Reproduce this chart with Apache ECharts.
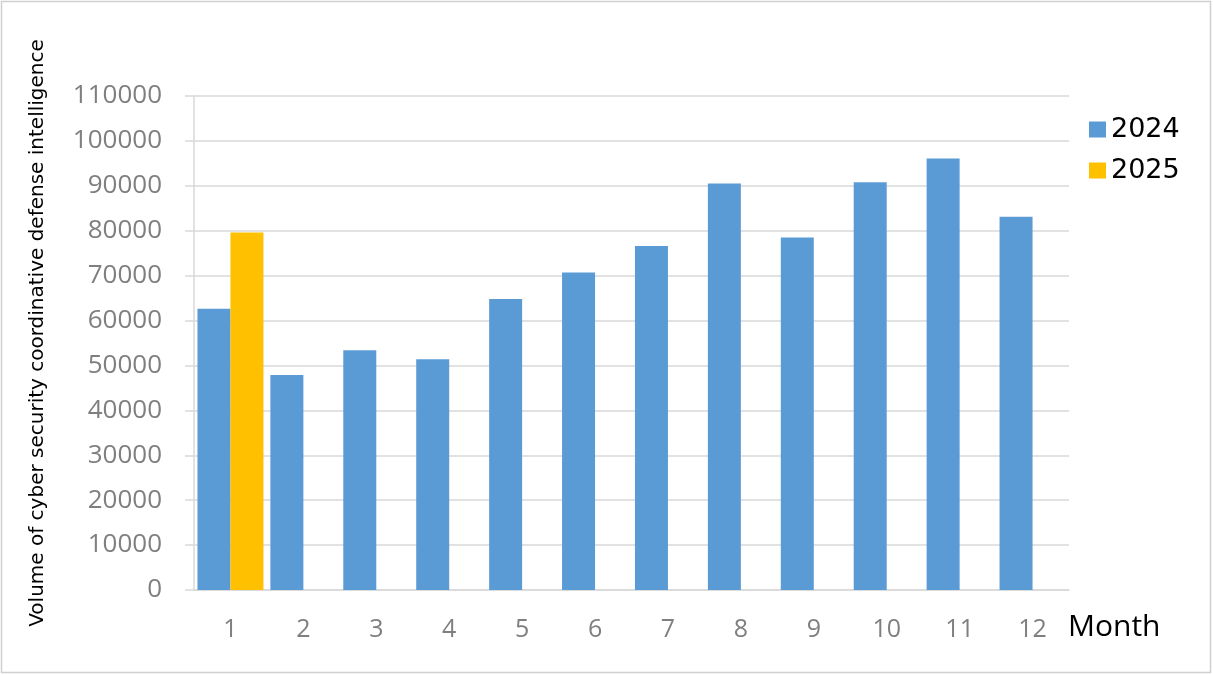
<!DOCTYPE html>
<html>
<head>
<meta charset="utf-8">
<script src="https://cdn.jsdelivr.net/npm/echarts@6/dist/echarts.min.js"></script>
<style>
html,body{margin:0;padding:0;background:#fff;}
#chart{width:1213px;height:675px;}
</style>
</head>
<body>
<div id="chart"></div>
<script>
const months = ['1','2','3','4','5','6','7','8','9','10','11','12'];
const seriesNames = ['2024','2025'];
const values2024 = [62600, 47900, 53400, 51400, 64800, 70700, 76600, 90500, 78500, 90800, 96100, 83100];
const values2025 = [79600, null, null, null, null, null, null, null, null, null, null, null];
const yTitle = 'Volume of cyber security coordinative defense intelligence';
const xTitle = 'Month';

const chart = echarts.init(document.getElementById('chart'), null, {renderer: 'canvas'});
const option = {
  backgroundColor: '#ffffff',
  animation: false,
  grid: {left: 194, right: 144, top: 96, bottom: 85, containLabel: false, outerBoundsMode: 'none'},
  legend: {
    orient: 'vertical',
    left: 1084,
    top: 111,
    itemWidth: 17,
    itemHeight: 16,
    itemGap: 14,
    icon: 'rect',
    data: seriesNames,
    textStyle: {fontFamily: 'DejaVu Sans', fontSize: 27, color: '#000'}
  },
  xAxis: {
    type: 'category',
    data: months,
    axisLine: {show: true, lineStyle: {color: '#d9d9d9', width: 1.5}},
    axisTick: {show: false},
    axisLabel: {fontFamily: 'Open Sans', fontSize: 25, color: '#7f7f7f', margin: 27}
  },
  yAxis: {
    type: 'value',
    min: 0,
    max: 110000,
    interval: 10000,
    axisLine: {show: true, lineStyle: {color: '#d9d9d9', width: 1.5}},
    axisTick: {show: true, length: 9, lineStyle: {color: '#d9d9d9', width: 1.5}},
    splitLine: {show: true, lineStyle: {color: '#d9d9d9', width: 1.5}},
    axisLabel: {fontFamily: 'Open Sans', fontSize: 26, color: '#7f7f7f', margin: 32,
                formatter: function (v) { return String(v); }}
  },
  series: [
    {name: seriesNames[0], type: 'bar', data: values2024, barGap: '0%', barCategoryGap: '9.5%',
     itemStyle: {color: '#5b9bd5'}},
    {name: seriesNames[1], type: 'bar', data: values2025, barGap: '0%', barCategoryGap: '9.5%',
     itemStyle: {color: '#ffc000'}}
  ],
  graphic: [
    {type: 'rect', shape: {x: 1.5, y: 1.5, width: 1209, height: 671}, style: {fill: 'none', stroke: '#d0d0d0', lineWidth: 1.5}, silent: true, z: -1},
    {type: 'text', x: 38, y: 333, rotation: Math.PI / 2,
     style: {text: yTitle, fontFamily: 'DejaVu Sans', fontSize: 20, fill: '#000', align: 'center', verticalAlign: 'middle'}},
    {type: 'text', x: 1068, y: 627,
     style: {text: xTitle, fontFamily: 'Open Sans', fontSize: 30, fill: '#000', align: 'left', verticalAlign: 'middle'}}
  ]
};
chart.setOption(option);
</script>
</body>
</html>
